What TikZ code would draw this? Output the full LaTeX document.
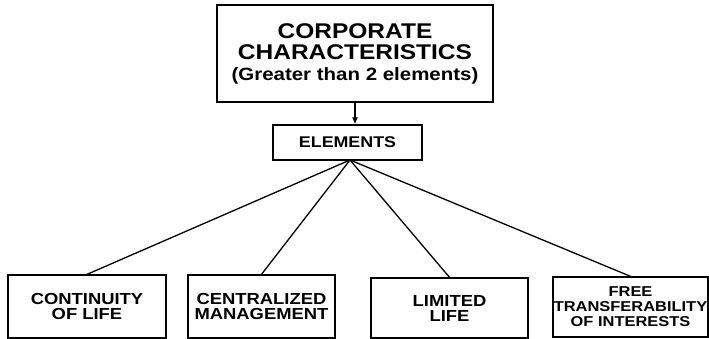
\documentclass[tikz,border=0pt]{standalone}
\usepackage{fontspec}
\setmainfont{Liberation Sans}[FakeStretch=1.15]
\usetikzlibrary{arrows.meta}
\begin{document}
\begin{tikzpicture}
  [
    x=1pt, y=-1pt,
    box/.style={draw, line width=1.3pt, align=center, inner sep=0pt},
    link/.style={line width=1.3pt},
    bigtext/.style={font=\bfseries\fontsize{21.3}{21}\selectfont},
    midtext/.style={font=\bfseries\fontsize{15.5}{15}\selectfont},
    smalltext/.style={font=\bfseries\fontsize{16}{15}\selectfont}
  ]
  \useasboundingbox (0,0) rectangle (709,339);
  % top box
  \node [box, bigtext, minimum width=276pt, minimum height=97pt] (corp) at (355,53.5)
    {CORPORATE\\CHARACTERISTICS\\\fontsize{17.8}{20}\selectfont (Greater than 2 elements)};
  % elements
  \node [box, midtext, minimum width=149pt, minimum height=35pt] (elem) at (347.5,142.5) {ELEMENTS};
  \draw [link, -{Latex[length=7pt,width=6pt]}] (corp.south) -- (corp.south |- elem.north);
  \coordinate (hub) at (350,160);
  % bottom boxes
  \node [box, smalltext, minimum width=158pt, minimum height=63pt] (cont) at (87,306.5) {CONTINUITY\\OF LIFE};
  \node [box, smalltext, minimum width=147pt, minimum height=63pt] (cent) at (261.5,306.5) {CENTRALIZED\\MANAGEMENT};
  \node [box, smalltext, minimum width=157pt, minimum height=60pt] (lim) at (449.5,308) {LIMITED\\LIFE};
  \node [box, font=\bfseries\fontsize{14.3}{15}\selectfont, minimum width=155pt, minimum height=60pt] (free) at (630.5,307) {FREE\\TRANSFERABILITY\\OF INTERESTS};
  % links
  \foreach \b in {cont,cent,lim,free} {
    \draw [link] (hub) -- (\b.north);
  }
\end{tikzpicture}
\end{document}
